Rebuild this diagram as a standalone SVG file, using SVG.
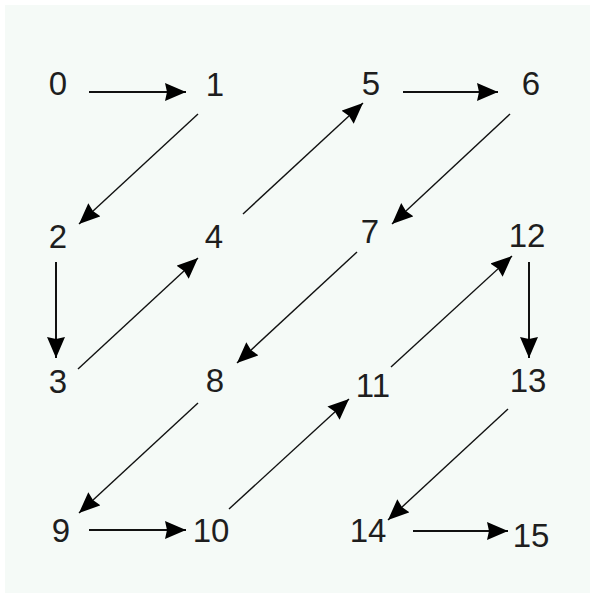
<svg xmlns="http://www.w3.org/2000/svg" width="590" height="594" viewBox="0 0 590 594">
<style>
.lbl{font-family:"Liberation Sans",Arial,sans-serif;font-size:33px;fill:#1e1e1e;text-anchor:middle}
.e{stroke:#111;stroke-width:1.4;fill:none;marker-end:url(#ah)}
.s{stroke-width:2}
</style>
<defs>
<marker id="ah" markerUnits="userSpaceOnUse" markerWidth="24" markerHeight="20" refX="21" refY="9" orient="auto">
<path d="M0,0 L21,9 L0,18 L2,9 Z" fill="#000"/>
</marker>
</defs>
<rect x="0" y="0" width="590" height="594" fill="#fff"/>
<rect x="5" y="5" width="585" height="588" fill="#f5faf7"/>
<g id="connectors">
<line class="e s" x1="89" y1="92" x2="186" y2="92"/>
<line class="e" x1="198" y1="114" x2="79" y2="224"/>
<line class="e s" x1="56" y1="262" x2="56" y2="358"/>
<line class="e" x1="78" y1="369" x2="198" y2="258"/>
<line class="e" x1="243" y1="214" x2="363" y2="103"/>
<line class="e s" x1="403" y1="92" x2="498" y2="92"/>
<line class="e" x1="510" y1="114" x2="392" y2="224"/>
<line class="e" x1="357" y1="252" x2="237" y2="363"/>
<line class="e" x1="198" y1="403" x2="79" y2="513"/>
<line class="e s" x1="89" y1="530" x2="186" y2="530"/>
<line class="e" x1="229" y1="509" x2="349" y2="399"/>
<line class="e" x1="391" y1="367" x2="512" y2="256"/>
<line class="e s" x1="529" y1="262" x2="529" y2="358"/>
<line class="e" x1="508" y1="409" x2="388" y2="520"/>
<line class="e s" x1="413" y1="531" x2="508" y2="531"/>
</g>
<g id="n0"><text class="lbl" x="58" y="95">0</text></g>
<g id="n1"><text class="lbl" x="215" y="96">1</text></g>
<g id="n2"><text class="lbl" x="58" y="248">2</text></g>
<g id="n3"><text class="lbl" x="58" y="393">3</text></g>
<g id="n4"><text class="lbl" x="214" y="248">4</text></g>
<g id="n5"><text class="lbl" x="371" y="95">5</text></g>
<g id="n6"><text class="lbl" x="531" y="95">6</text></g>
<g id="n7"><text class="lbl" x="370" y="243">7</text></g>
<g id="n8"><text class="lbl" x="215" y="392">8</text></g>
<g id="n9"><text class="lbl" x="61" y="542">9</text></g>
<g id="n10"><text class="lbl" x="211" y="542">10</text></g>
<g id="n11"><text class="lbl" x="373" y="397">11</text></g>
<g id="n12"><text class="lbl" x="527" y="247">12</text></g>
<g id="n13"><text class="lbl" x="528" y="392">13</text></g>
<g id="n14"><text class="lbl" x="368" y="542">14</text></g>
<g id="n15"><text class="lbl" x="531" y="547">15</text></g>
</svg>
